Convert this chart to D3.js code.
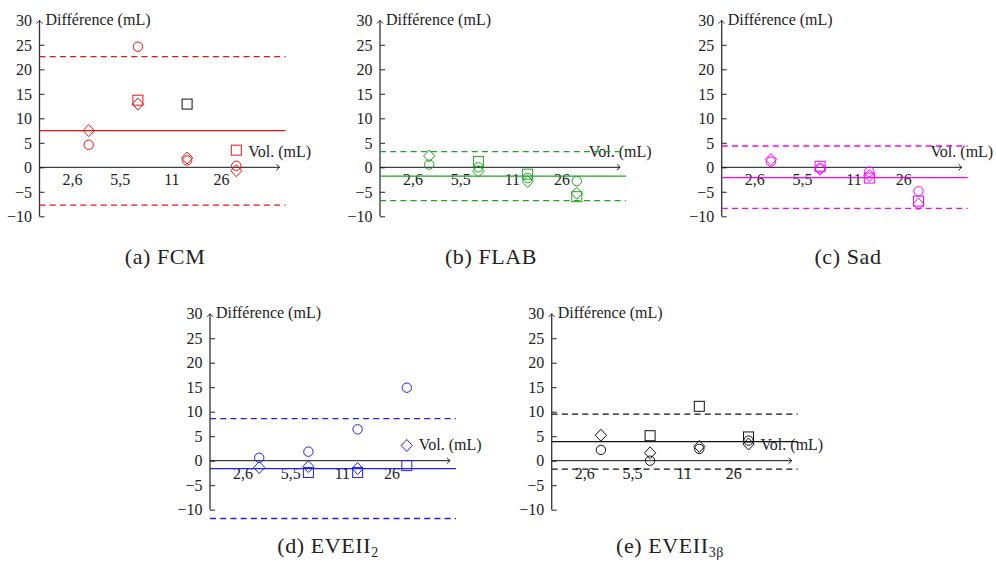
<!DOCTYPE html>
<html><head><meta charset="utf-8">
<script src="https://cdn.jsdelivr.net/npm/d3@7"></script>
<style>body{margin:0;background:#fff}svg{display:block}</style>
</head><body><svg id="c" width="996" height="562"></svg>
<script>
// ---------- data ----------
const yTickValues = [-10, -5, 0, 5, 10, 15, 20, 25, 30];
const volLabels = ["2,6", "5,5", "11", "26"];
const volLabelX = [0.66, 1.63, 2.68, 3.69];
const groupX = [1, 2, 3, 4];
const xAxisEnd = 4.88;
const lineEnd = 5.0;

// limits arrays: mean, upper limit, lower limit
const fcmCircle  = [4.6, 24.6, 1.4, 0.3];
const fcmSquare  = [null, 13.7, 12.9, 3.5];
const fcmDiamond = [7.5, 12.9, 1.9, -0.7];
const fcmLimits  = [7.5, 22.6, -7.7];

const flabCircle  = [0.55, 0.0, -2.2, -2.8];
const flabSquare  = [null, 1.2, -1.4, -6.0];
const flabDiamond = [2.3, -0.8, -2.9, -5.3];
const flabLimits  = [-1.8, 3.2, -6.8];

const sadCircle  = [1.15, -0.2, -0.9, -4.9];
const sadSquare  = [null, 0.2, -2.2, -6.9];
const sadDiamond = [1.6, -0.4, -1.7, -7.5];
const sadLimits  = [-2.1, 4.35, -8.4];

const eve2Circle  = [0.6, 1.85, 6.4, 14.9];
const eve2Square  = [null, -2.4, -2.4, -1.0];
const eve2Diamond = [-1.4, -1.2, -1.6, 3.1];
const eve2Limits  = [-1.6, 8.6, -11.8];

const eve3Circle  = [2.2, 0.0, 2.4, 4.1];
const eve3Square  = [null, 5.1, 11.1, 4.85];
const eve3Diamond = [5.2, 1.6, 2.9, 3.4];
const eve3Limits  = [3.9, 9.5, -1.7];

const captionLetters = ["(a)", "(b)", "(c)", "(d)", "(e)"];
const captionNames = [["FCM", ""], ["FLAB", ""], ["Sad", ""], ["EVEII", "2"], ["EVEII", "3β"]];

// ---------- layout / style ----------
const FONT = "'Liberation Serif', 'Times New Roman', serif";
const TXT = "#222";
const panels = [
  {ax: 39.5,  y0: 167.3, color: "#ee1111", c: fcmCircle,  s: fcmSquare,  d: fcmDiamond,  lim: fcmLimits,  cap: [165, 257], blackSquare: 2},
  {ax: 380,   y0: 167.3, color: "#22a322", c: flabCircle, s: flabSquare, d: flabDiamond, lim: flabLimits, cap: [491, 257]},
  {ax: 721.7, y0: 167.3, color: "#ff00ff", c: sadCircle,  s: sadSquare,  d: sadDiamond,  lim: sadLimits,  cap: [848, 257]},
  {ax: 210,   y0: 460.7, color: "#2020ee", c: eve2Circle, s: eve2Square, d: eve2Diamond, lim: eve2Limits, cap: [328, 546]},
  {ax: 551.7, y0: 460.7, color: "#111111", c: eve3Circle, s: eve3Square, d: eve3Diamond, lim: eve3Limits, cap: [670, 546]}
];

const svg = d3.select("#c");

function arrowPath(tx, ty, dir) {
  if (dir === "right")
    return `M${tx-3.2},${ty-3} Q${tx-0.9},${ty-0.7} ${tx},${ty} Q${tx-0.9},${ty+0.7} ${tx-3.2},${ty+3}`;
  return `M${tx-3},${ty+3.2} Q${tx-0.7},${ty+0.9} ${tx},${ty} Q${tx+0.7},${ty+0.9} ${tx+3},${ty+3.2}`;
}

panels.forEach((p, pi) => {
  const x = d3.scaleLinear().domain([0, lineEnd]).range([p.ax, p.ax + 246]);
  const y = d3.scaleLinear().domain([-10, 30]).range([p.y0 + 49, p.y0 - 147]);
  const g = svg.append("g");

  // y axis
  const yAx = g.append("g").attr("transform", `translate(${p.ax},0)`)
    .call(d3.axisLeft(y).tickValues(yTickValues).tickSizeInner(-5).tickSizeOuter(0).tickPadding(7.5));
  yAx.select(".domain").remove();
  yAx.selectAll(".tick line").attr("stroke", "#333").attr("stroke-width", 1.1)
    .filter(d => d === 30).remove();
  yAx.selectAll(".tick text").attr("font-family", FONT).attr("font-size", 16)
    .attr("fill", TXT).attr("dy", "0.33em");
  g.append("line").attr("x1", p.ax).attr("x2", p.ax).attr("y1", y(-10)).attr("y2", y(30))
    .attr("stroke", "#333").attr("stroke-width", 1.3);
  g.append("path").attr("d", arrowPath(p.ax, y(30), "up")).attr("fill", "none")
    .attr("stroke", "#333").attr("stroke-width", 1);
  g.append("text").attr("x", p.ax + 6).attr("y", y(30) - 1).attr("dy", "0.33em")
    .attr("font-family", FONT).attr("font-size", 16).attr("fill", TXT).text("Différence (mL)");

  // x axis
  const xAx = g.append("g").attr("transform", `translate(0,${y(0)})`)
    .call(d3.axisBottom(x).tickValues(volLabelX).tickFormat((d, i) => volLabels[i]).tickSize(0).tickPadding(6.6));
  xAx.select(".domain").remove();
  xAx.selectAll(".tick text").attr("font-family", FONT).attr("font-size", 16).attr("fill", TXT);
  g.append("line").attr("x1", x(0)).attr("x2", x(xAxisEnd)).attr("y1", y(0)).attr("y2", y(0))
    .attr("stroke", "#111").attr("stroke-width", 1);
  g.append("path").attr("d", arrowPath(x(xAxisEnd), y(0), "right")).attr("fill", "none")
    .attr("stroke", "#111").attr("stroke-width", 1);
  g.append("text").attr("x", x(xAxisEnd)).attr("y", y(0) - 15.6).attr("dy", "0.33em")
    .attr("text-anchor", "middle").attr("font-family", FONT).attr("font-size", 16)
    .attr("fill", TXT).text("Vol. (mL)");

  // mean and limits
  p.lim.forEach((v, i) => {
    g.append("line").attr("x1", x(0)).attr("x2", x(lineEnd)).attr("y1", y(v)).attr("y2", y(v))
      .attr("stroke", p.color).attr("stroke-width", 1.3)
      .attr("stroke-dasharray", i === 0 ? null : "6,4.2");
  });

  // markers
  const mk = g.append("g").attr("fill", "none").attr("stroke-width", 1);
  p.c.forEach((v, i) => {
    if (v === null) return;
    mk.append("circle").attr("cx", x(groupX[i])).attr("cy", y(v)).attr("r", 4.7).attr("stroke", p.color);
  });
  p.s.forEach((v, i) => {
    if (v === null) return;
    mk.append("rect").attr("x", x(groupX[i]) - 5).attr("y", y(v) - 5).attr("width", 10).attr("height", 10)
      .attr("stroke", p.blackSquare === i ? "#111" : p.color);
  });
  p.d.forEach((v, i) => {
    if (v === null) return;
    const cx = x(groupX[i]), cy = y(v);
    mk.append("path").attr("d", `M${cx},${cy-6} L${cx+5.6},${cy} L${cx},${cy+6} L${cx-5.6},${cy} Z`)
      .attr("stroke", p.color);
  });

  // caption
  const t = svg.append("text").attr("x", p.cap[0]).attr("y", p.cap[1]).attr("dy", "0.33em")
    .attr("text-anchor", "middle").attr("font-family", FONT).attr("font-size", 22)
    .attr("letter-spacing", 0.6).attr("fill", TXT);
  t.append("tspan").text(captionLetters[pi] + " " + captionNames[pi][0]);
  if (captionNames[pi][1]) {
    t.append("tspan").attr("font-size", 14).attr("dy", "0.3em").text(captionNames[pi][1]);
  }
});
</script>
</body></html>
